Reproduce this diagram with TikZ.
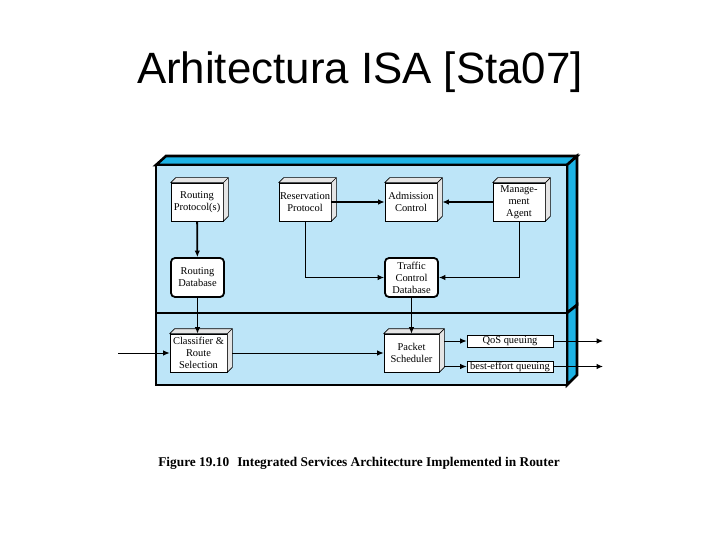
\documentclass[tikz,border=0pt]{standalone}
\usepackage{fontspec}
\setmainfont{Liberation Serif}
\newfontfamily\titlefont{Liberation Sans}
\usetikzlibrary{arrows.meta,calc}

\definecolor{front_blue}{RGB}{189,229,248}
\definecolor{side_blue}{RGB}{29,179,229}

\begin{document}
\begin{tikzpicture}[
            % Unita' in pixel, asse y verso il basso
            x={(1bp,0bp)}, y={(0bp,-1bp)},
            % Stili dei blocchi e delle frecce
            outer_edge/.style={line width=2.6bp, line join=miter},
            block/.style={draw, line width=0.7bp, fill=white, minimum width=52bp, minimum height=38bp,
                inner sep=0pt, align=center, font=\fontsize{10.5}{12}\selectfont},
            block_side/.style={draw, line width=0.7bp, fill=gray!20, line join=round},
            database/.style={block, line width=1.8bp, rounded corners=4bp, minimum width=53bp, minimum height=39bp},
            queue/.style={block, minimum width=86bp, minimum height=12bp},
            link/.style={line width=1bp, -{Latex[length=6.5bp,width=5.5bp]}},
            thick_link/.style={link, line width=1.8bp}
        ]

        \useasboundingbox (0,0) rectangle (720,540);

        % Titolo
        \node[font=\titlefont\fontsize{44}{50}\selectfont, anchor=base] (titolo) at (360,84) {Arhitectura ISA [Sta07]};

        % ==============================
        % 1. CONTENITORE (ROUTER)
        % ==============================
        % Piano superiore (controllo)
        \filldraw[outer_edge, fill=side_blue] (156,165) -- (166,156) -- (577,156) -- (567,165) -- cycle;
        \filldraw[outer_edge, fill=side_blue] (567,165) -- (577,156) -- (577,305) -- (567,313) -- cycle;
        \filldraw[outer_edge, fill=front_blue] (156,165) rectangle (567,313);
        % Piano inferiore (inoltro)
        \filldraw[outer_edge, fill=side_blue] (567,313) -- (577,305) -- (577,375) -- (567,385) -- cycle;
        \filldraw[outer_edge, fill=front_blue] (156,313) rectangle (567,385);

        % ==============================
        % 2. BLOCCHI
        % ==============================
        \node[block] (routing_proto) at (197,202) {Routing\\Protocol(s)};
        \node[block] (resv_proto) at (305,202) {Reservation\\Protocol};
        \node[block] (admission) at (411,202) {Admission\\Control};
        \node[block] (mgmt_agent) at (519,202) {Manage-\\ment\\Agent};
        \node[database] (routing_db) at (197.5,277.5) {Routing\\Database};
        \node[database] (traffic_db) at (411.5,277.5) {Traffic\\Control\\Database};
        \node[block, minimum width=57bp] (classifier) at (198.5,353) {Classifier \&\\Route\\Selection};
        \node[block, minimum width=55bp] (scheduler) at (411.5,353) {Packet\\Scheduler};
        \node[queue] (qos_queue) at (510,341) {QoS queuing};
        \node[queue, minimum height=11bp] (be_queue) at (510,366.5) {best-effort queuing};

        % Facce laterali dei blocchi 3D
        \foreach \b in {routing_proto,resv_proto,admission,mgmt_agent,classifier,scheduler} {
            \filldraw[block_side] (\b.north west) -- ++(5,-5) -- ($(\b.north east)+(5,-5)$)
                -- ($(\b.south east)+(5,-5)$) -- (\b.south east) -- (\b.north east) -- cycle;
            \draw[block_side] (\b.north east) -- ++(5,-5);
        }

        % ==============================
        % 3. COLLEGAMENTI
        % ==============================
        \draw[thick_link] (routing_proto) -- (routing_db);
        \draw[thick_link] (routing_db.south) -- (routing_db.south |- classifier.north);
        \draw[thick_link] (resv_proto.east) -- (admission.west);
        \draw[thick_link] (mgmt_agent.west) -- ($(admission.east)+(5,0)$);
        \draw[link] (resv_proto.south) |- (traffic_db.west);
        \draw[link] (mgmt_agent.south) |- (traffic_db.east);
        \draw[link] (traffic_db) -- (scheduler);

        % Ingresso e uscite
        \coordinate (ingresso) at (118,353);
        \coordinate (uscita_qos) at (603,341);
        \coordinate (uscita_be) at (603,366.5);
        \draw[link] (ingresso) -- (classifier.west);
        \draw[link] ($(classifier.east)+(5,0)$) -- (scheduler.west);
        \draw[link] ($(scheduler.east |- qos_queue.west)+(5,0)$) -- (qos_queue.west);
        \draw[link] ($(scheduler.east |- be_queue.west)+(5,0)$) -- (be_queue.west);
        \draw[link] (qos_queue.east) -- (uscita_qos);
        \draw[link] (be_queue.east) -- (uscita_be);

        % Didascalia
        \node[font=\bfseries\fontsize{13.4}{15}\selectfont, anchor=base] (didascalia) at (359,466)
            {Figure 19.10\hspace{0.6em}Integrated Services Architecture Implemented in Router};

        \end{tikzpicture}
\end{document}
